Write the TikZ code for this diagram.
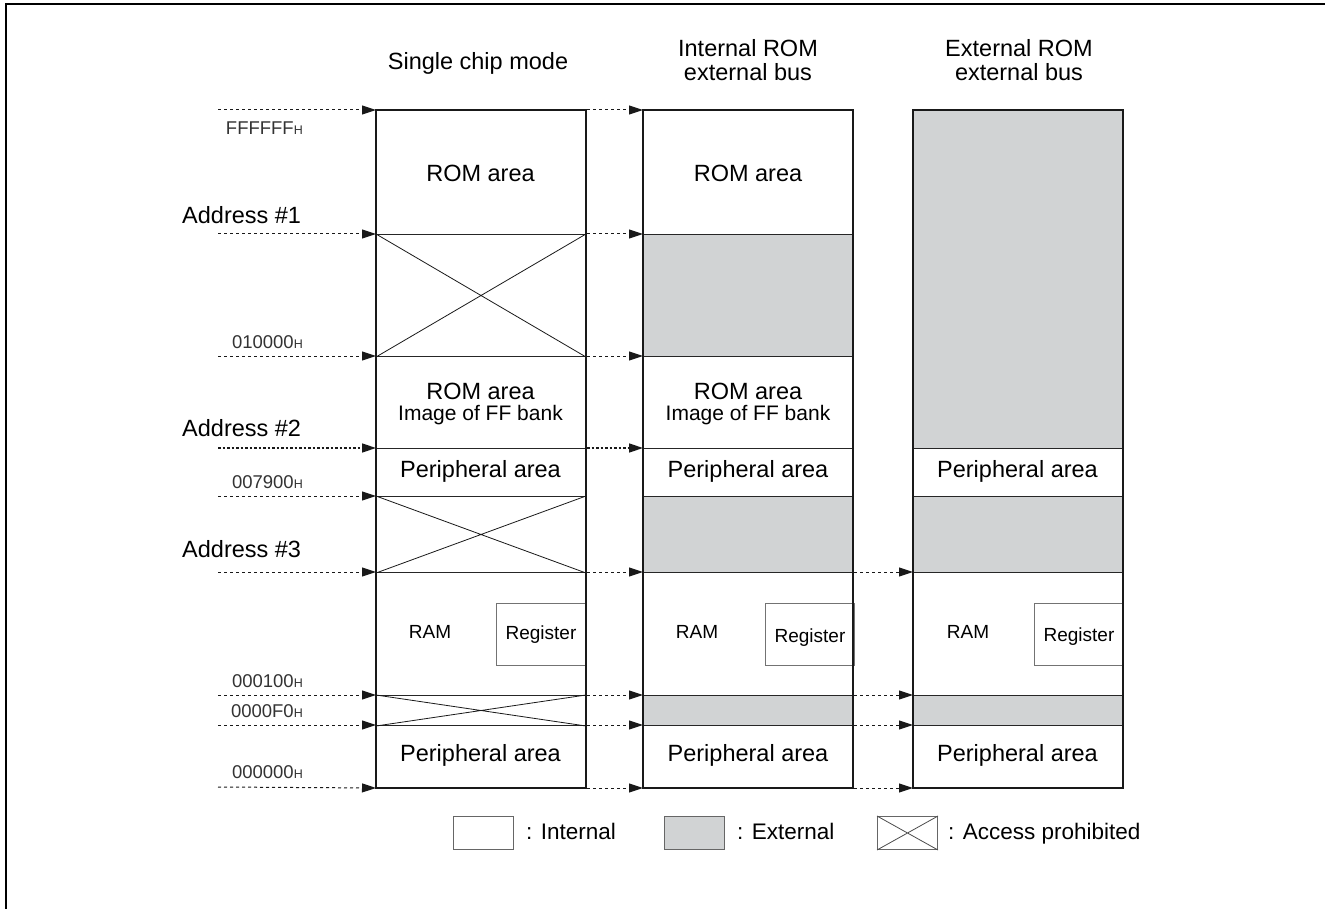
\documentclass[tikz,border=0pt]{standalone}
\usepackage{fontspec}
\setmainfont{Liberation Sans}
\usetikzlibrary{arrows.meta}
\definecolor{extgray}{RGB}{209,211,212}
\begin{document}
\begin{tikzpicture}[x=1pt,y=-1pt,
  big/.style={font=\fontsize{23.5}{24}\selectfont, inner sep=0pt, align=center},
  mid/.style={font=\fontsize{21}{22}\selectfont, inner sep=0pt},
  small/.style={font=\fontsize{19}{20}\selectfont, inner sep=0pt},
  seg/.style={draw=black!85, line width=1pt, inner sep=0pt, anchor=north west, minimum width=209pt},
  intseg/.style={seg, fill=white},
  extseg/.style={seg, fill=extgray},
  colborder/.style={draw=black!90, line width=1.8pt},
  cross/.style={draw=black!90, line width=0.8pt},
  regbox/.style={draw=black!55, line width=1pt, fill=white, inner sep=0pt, anchor=north west, minimum width=89pt, minimum height=62pt},
  arr/.style={draw=black!90, line width=1pt, dash pattern=on 3pt off 3pt, -{Triangle[length=14pt,width=9pt]}},
  arrbold/.style={arr, line width=1.6pt, dash pattern=on 2.5pt off 2pt, -{Triangle[length=14pt,width=9pt]}},
  hexlab/.style={inner sep=0pt, anchor=base east, text=black!80},
  addrlab/.style={font=\fontsize{23.5}{24}\selectfont, inner sep=0pt, anchor=base west},
  legbox/.style={draw=black!60, line width=1pt, inner sep=0pt, anchor=north west, minimum width=60pt, minimum height=33pt},
  legtext/.style={font=\fontsize{22.5}{24}\selectfont, inner sep=0pt, anchor=base west}
]
\useasboundingbox (0,0) rectangle (1325,909);
% outer frame
\draw[line width=2pt] (6,909) -- (6,4) -- (1325,4);

% headings
\node[big] (h1) at (478,63) {Single chip mode};
\node[big] (h2) at (748,60) {Internal ROM\\external bus};
\node[big] (h3) at (1019,60) {External ROM\\external bus};

% ---------- column 1 : single chip mode ----------
\node[intseg, minimum height=124pt] (a1) at (376,110) {};
\node[intseg, minimum height=122pt] (a2) at (376,234) {};
\node[intseg, minimum height=92pt]  (a3) at (376,356) {};
\node[intseg, minimum height=48pt]  (a4) at (376,448) {};
\node[intseg, minimum height=76pt]  (a5) at (376,496) {};
\node[intseg, minimum height=123pt] (a6) at (376,572) {};
\node[intseg, minimum height=30pt]  (a7) at (376,695) {};
\node[intseg, minimum height=62pt]  (a8) at (376,725) {};
\draw[cross] (a2.north west) -- (a2.south east) (a2.north east) -- (a2.south west);
\draw[cross] (a5.north west) -- (a5.south east) (a5.north east) -- (a5.south west);
\draw[cross] (a7.north west) -- (a7.south east) (a7.north east) -- (a7.south west);
\node[regbox] (ar) at (496,603) {};
\node[small] (art) at (ar.center) {Register};
\node[small] (aram) at (430,632) {RAM};
\node[big] (a1t) at (480.5,173) {ROM area};
\node[big] (a3t) at (480.5,391) {ROM area};
\node[mid] (a3s) at (480.5,415) {Image of FF bank};
\node[big] (a4t) at (480.5,471) {Peripheral area};
\node[big] (a8t) at (480.5,755) {Peripheral area};
\draw[colborder] (a1.north west) rectangle (a8.south east);

% ---------- column 2 : internal ROM external bus ----------
\node[intseg, minimum height=124pt] (b1) at (643,110) {};
\node[extseg, minimum height=122pt] (b2) at (643,234) {};
\node[intseg, minimum height=92pt]  (b3) at (643,356) {};
\node[intseg, minimum height=48pt]  (b4) at (643,448) {};
\node[extseg, minimum height=76pt]  (b5) at (643,496) {};
\node[intseg, minimum height=123pt] (b6) at (643,572) {};
\node[extseg, minimum height=30pt]  (b7) at (643,695) {};
\node[intseg, minimum height=62pt]  (b8) at (643,725) {};
\node[regbox] (br) at (765,603) {};
\node[small] (brt) at ([yshift=-3pt]br.center) {Register};
\node[small] (bram) at (697,632) {RAM};
\node[big] (b1t) at (748,173) {ROM area};
\node[big] (b3t) at (748,391) {ROM area};
\node[mid] (b3s) at (748,415) {Image of FF bank};
\node[big] (b4t) at (748,471) {Peripheral area};
\node[big] (b8t) at (748,755) {Peripheral area};
\draw[colborder] (b1.north west) rectangle (b8.south east);

% ---------- column 3 : external ROM external bus ----------
\node[extseg, minimum height=338pt] (c1) at (913,110) {};
\node[intseg, minimum height=48pt]  (c4) at (913,448) {};
\node[extseg, minimum height=76pt]  (c5) at (913,496) {};
\node[intseg, minimum height=123pt] (c6) at (913,572) {};
\node[extseg, minimum height=30pt]  (c7) at (913,695) {};
\node[intseg, minimum height=62pt]  (c8) at (913,725) {};
\node[regbox] (cr) at (1034,603) {};
\node[small] (crt) at ([yshift=-2pt]cr.center) {Register};
\node[small] (cram) at (968,632) {RAM};
\node[big] (c4t) at (1017.5,471) {Peripheral area};
\node[big] (c8t) at (1017.5,755) {Peripheral area};
\draw[colborder] (c1.north west) rectangle (c8.south east);

% ---------- left labels ----------
\node[hexlab] (lF) at (303,135) {\fontsize{18.5}{20}\selectfont FFFFFF\fontsize{12.5}{14}\selectfont H};
\node[addrlab] (lA1) at (182,224) {Address \#1};
\node[hexlab] (l01) at (303,348) {\fontsize{18.5}{20}\selectfont 010000\fontsize{12.5}{14}\selectfont H};
\node[addrlab] (lA2) at (182,436) {Address \#2};
\node[hexlab] (l79) at (303,488) {\fontsize{18.5}{20}\selectfont 007900\fontsize{12.5}{14}\selectfont H};
\node[addrlab] (lA3) at (182,557) {Address \#3};
\node[hexlab] (l100) at (303,687) {\fontsize{18.5}{20}\selectfont 000100\fontsize{12.5}{14}\selectfont H};
\node[hexlab] (lF0) at (303,717) {\fontsize{18.5}{20}\selectfont 0000F0\fontsize{12.5}{14}\selectfont H};
\node[hexlab] (l00) at (303,778) {\fontsize{18.5}{20}\selectfont 000000\fontsize{12.5}{14}\selectfont H};

% ---------- arrow start points ----------
\coordinate (s1) at (218,110);
\coordinate (s2) at (218,234);
\coordinate (s3) at (218,356);
\coordinate (s4) at (218,448);
\coordinate (s5) at (218,496);
\coordinate (s6) at (218,572);
\coordinate (s7) at (218,695);
\coordinate (s8) at (218,725);
\coordinate (s9) at (218,787);

% left arrows into column 1
\draw[arr] (s1) -- (a1.north west);
\draw[arr] (s2) -- (a2.north west);
\draw[arr] (s3) -- (a3.north west);
\draw[arrbold] (s4) -- (a4.north west);
\draw[arr] (s5) -- (a5.north west);
\draw[arr] (s6) -- (a6.north west);
\draw[arr] (s7) -- (a7.north west);
\draw[arr] (s8) -- (a8.north west);
\draw[arr] (s9) -- (a8.south west);

% column 1 -> column 2
\draw[arr] ([xshift=1pt]a1.north east) -- (b1.north west);
\draw[arr] ([xshift=1pt]a2.north east) -- (b2.north west);
\draw[arr] ([xshift=1pt]a3.north east) -- (b3.north west);
\draw[arrbold] ([xshift=1pt]a4.north east) -- (b4.north west);
\draw[arr] ([xshift=1pt]a6.north east) -- (b6.north west);
\draw[arr] ([xshift=1pt]a7.north east) -- (b7.north west);
\draw[arr] ([xshift=1pt]a8.north east) -- (b8.north west);
\draw[arr] ([xshift=1pt]a8.south east) -- (b8.south west);

% column 2 -> column 3
\draw[arr] ([xshift=1pt]b6.north east) -- (c6.north west);
\draw[arr] ([xshift=1pt]b7.north east) -- (c7.north west);
\draw[arr] ([xshift=1pt]b8.north east) -- (c8.north west);
\draw[arr] ([xshift=1pt]b8.south east) -- (c8.south west);

% ---------- legend ----------
\node[legbox, fill=white] (gi) at (453,816) {};
\node[legtext] (git) at (526,839) {: Internal};
\node[legbox, fill=extgray] (ge) at (664,816) {};
\node[legtext] (get) at (737,839) {: External};
\node[legbox, fill=white] (gx) at (877,816) {};
\draw[draw=black!70, line width=0.8pt] (gx.north west) -- (gx.south east) (gx.north east) -- (gx.south west);
\node[legtext] (gxt) at (948,839) {: Access prohibited};
\end{tikzpicture}
\end{document}
